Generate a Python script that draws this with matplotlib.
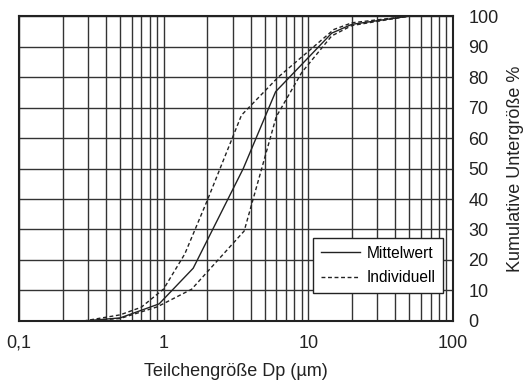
import numpy as np
import matplotlib
matplotlib.use('Agg')
from matplotlib import pyplot as plt
from matplotlib.ticker import FixedLocator, FixedFormatter, LogLocator, NullFormatter

plt.rcParams['font.family'] = ['Liberation Sans', 'DejaVu Sans']

# Mittelwert
mean_x = [0.28, 0.5, 0.93, 1.6, 3.55, 5.94, 14.5, 20, 50]
mean_y = [0, 1.0, 5.6, 17.3, 50, 75.2, 94.4, 97.3, 100]
# Individuell (obere Kurve)
ind_hi_x = [0.28, 0.5, 0.7, 1.0, 1.4, 2.0, 3.45, 6.2, 15, 20, 50]
ind_hi_y = [0, 2.0, 4.5, 10.5, 22, 39.5, 67.5, 80, 95.6, 97.8, 100]
# Individuell (untere Kurve)
ind_lo_x = [0.28, 0.5, 0.9, 1.56, 3.6, 6.0, 9.0, 14.5, 20, 50]
ind_lo_y = [0, 0.8, 4.6, 10.4, 29.5, 67, 81.5, 93.5, 96.9, 100]

xticks = [0.1, 1, 10, 100]
xticklabels = ['0,1', '1', '10', '100']
yticks = list(range(0, 101, 10))

fig = plt.figure(figsize=(5.28, 3.83), dpi=100)
ax = fig.add_axes([0.036, 0.162, 0.822, 0.796])

dash = (0, (2.8, 1.9))
ax.plot(mean_x, mean_y, color='#222222', lw=1.0, ls='-', label='Mittelwert')
ax.plot(ind_hi_x, ind_hi_y, color='#222222', lw=1.0, ls=dash, label='Individuell')
ax.plot(ind_lo_x, ind_lo_y, color='#222222', lw=1.0, ls=dash)

ax.set_xscale('log')
ax.set_xlim(0.1, 100)
ax.set_ylim(0, 100)
ax.xaxis.set_major_locator(FixedLocator(xticks))
ax.xaxis.set_major_formatter(FixedFormatter(xticklabels))
ax.xaxis.set_minor_locator(LogLocator(base=10, subs=np.arange(2, 10)))
ax.xaxis.set_minor_formatter(NullFormatter())
ax.set_yticks(yticks)
ax.yaxis.tick_right()
ax.yaxis.set_label_position('right')

ax.grid(True, which='both', axis='x', color='#333333', lw=1.0)
ax.grid(True, which='major', axis='y', color='#333333', lw=1.0)
ax.tick_params(which='both', length=0, labelsize=13, colors='#222222')
ax.tick_params(axis='x', pad=10)
ax.tick_params(axis='y', pad=11)
for s in ax.spines.values():
    s.set_linewidth(1.5)
    s.set_color('#222222')

ax.set_xlabel('Teilchengröße Dp (µm)', fontsize=13, color='#222222', labelpad=8)
ax.set_ylabel('Kumulative Untergröße %', fontsize=13, color='#222222', labelpad=6)

leg = ax.legend(loc='lower right', bbox_to_anchor=(0.977, 0.092), fontsize=11.2,
                frameon=True, fancybox=False, handlelength=2.55, handletextpad=0.4,
                borderpad=0.48, labelspacing=0.63, borderaxespad=0)
leg.get_frame().set_edgecolor('#222222')
leg.get_frame().set_linewidth(1.0)
leg.get_frame().set_alpha(1)

fig.savefig('out.png', dpi=100)
